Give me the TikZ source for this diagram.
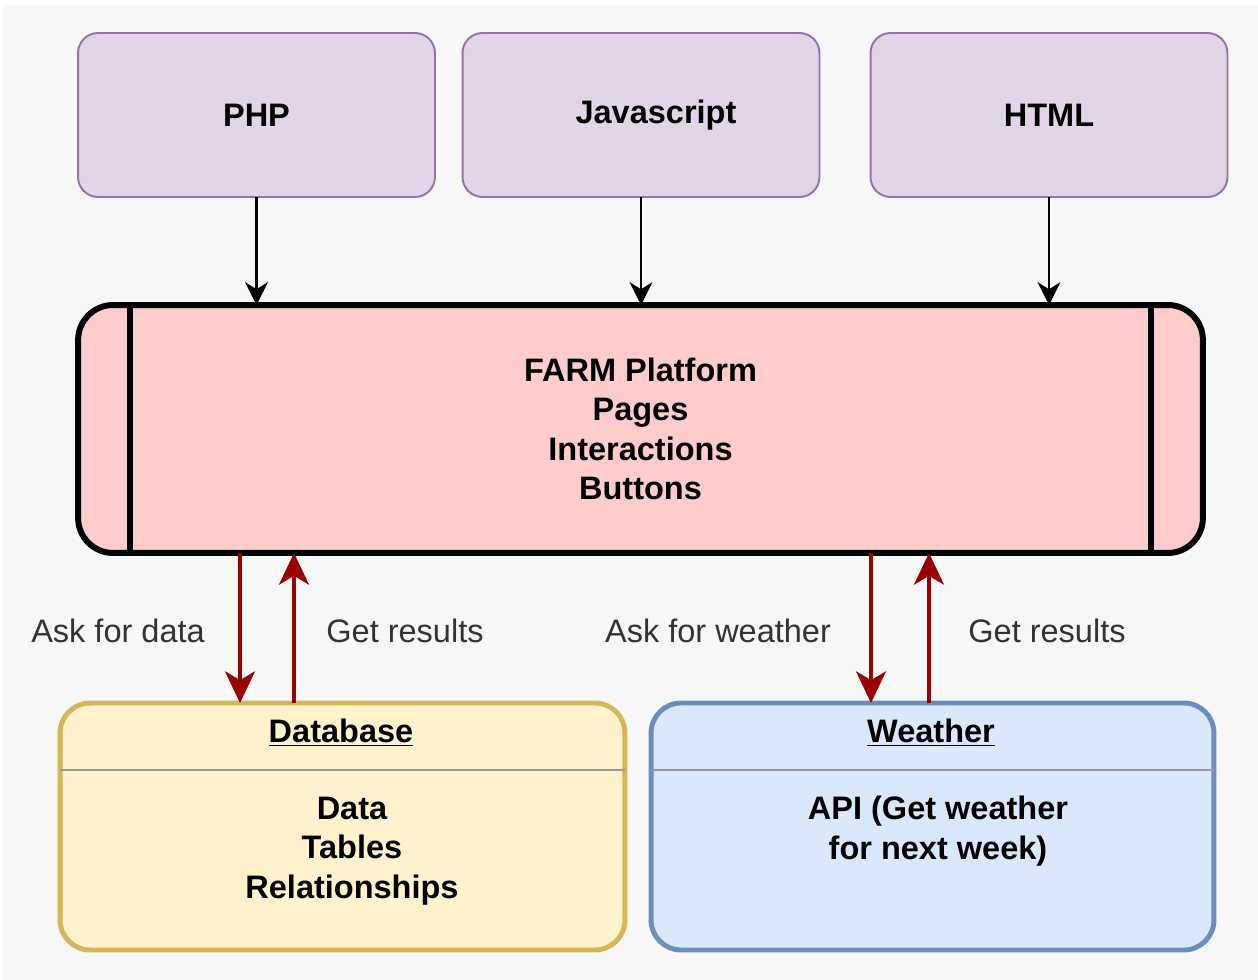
\documentclass[tikz,border=0pt]{standalone}
\usepackage{fontspec}
\setmainfont{Liberation Sans}
\usetikzlibrary{arrows.meta}

\definecolor{bgcol}{HTML}{F7F7F7}
\definecolor{techfill}{HTML}{E1D5E7}
\definecolor{techline}{HTML}{9673A6}
\definecolor{farmfill}{HTML}{FFCCCC}
\definecolor{dbfill}{HTML}{FFF2CC}
\definecolor{dbline}{HTML}{D6B656}
\definecolor{wxfill}{HTML}{DAE8FC}
\definecolor{wxline}{HTML}{6C8EBF}
\definecolor{linkred}{HTML}{990000}

\tikzset{
  bigfont/.style={font=\bfseries\fontsize{18.5}{22.5}\selectfont},
  tech/.style={draw=techline, fill=techfill, line width=1.1pt, rounded corners=0.4cm,
    minimum width=7.14cm, minimum height=3.28cm, inner sep=0, outer sep=0, bigfont},
  farm/.style={draw=black, fill=farmfill, line width=3.4pt, rounded corners=0.7cm,
    minimum width=22.5cm, minimum height=4.96cm, inner sep=0, outer sep=0, align=center, bigfont},
  bar/.style={line width=3pt},
  store/.style={line width=2.8pt, rounded corners=0.6cm, minimum height=4.94cm,
    inner sep=0, outer sep=0},
  divider/.style={draw=black!40, line width=1pt},
  boxtitle/.style={bigfont},
  boxbody/.style={align=center, bigfont},
  feed/.style={-{Stealth[length=13pt, width=13pt, inset=4pt]}, line width=1.3pt},
  link/.style={-{Stealth[length=18pt, width=17pt, inset=5pt]}, draw=linkred, line width=2.3pt},
  linklabel/.style={text=black!80, font=\fontsize{18.5}{22.5}\selectfont}
}

\begin{document}
\begin{tikzpicture}[x=0.02cm, y=-0.02cm]
\useasboundingbox (0,0) rectangle (1258,980);
\fill[white] (0,0) rectangle (1258,980);
\fill[bgcol] (3,5) rectangle (1258,980);

% languages
\node[tech] (php) at (256.5,115) {PHP};
\node[tech] (js) at (641,115) {\hspace{0.6cm}Javascript};
\node[tech] (html) at (1049,115) {HTML};

% platform
\node[farm] (farm) at (640.5,429) {FARM Platform\\Pages\\Interactions\\Buttons};
\draw[bar] ([xshift=1.04cm]farm.north west) -- ([xshift=1.04cm]farm.south west);
\draw[bar] ([xshift=-1.04cm]farm.north east) -- ([xshift=-1.04cm]farm.south east);

\foreach \n in {php,js,html}
  \draw[feed] (\n.south) -- (\n.south |- farm.north);

% back ends
\node[store, draw=dbline, fill=dbfill, minimum width=11.3cm] (db) at (342.5,826.5) {};
\node[store, draw=wxline, fill=wxfill, minimum width=11.26cm] (wx) at (932.5,826.5) {};

\coordinate (sep) at (0,770);
\draw[divider] (db.west |- sep) -- (db.east |- sep);
\draw[divider] (wx.west |- sep) -- (wx.east |- sep);

\node[boxtitle] (dbtitle) at (341,733) {\underline{Database}};
\node[boxbody] (dbbody) at (352,851) {Data\\Tables\\Relationships};
\node[boxtitle] (wxtitle) at (931,733) {\underline{Weather}};
\node[boxbody] (wxbody) at (938,831) {API (Get weather\\for next week)};

% requests and replies
\coordinate (xa) at (240,0);
\coordinate (xb) at (294,0);
\coordinate (xc) at (871,0);
\coordinate (xd) at (929,0);
\draw[link] (farm.south -| xa) -- (db.north -| xa);
\draw[link] (db.north -| xb) -- (farm.south -| xb);
\draw[link] (farm.south -| xc) -- (wx.north -| xc);
\draw[link] (wx.north -| xd) -- (farm.south -| xd);

\node[linklabel] (askdb) at (118,631) {Ask for data};
\node[linklabel] (getdb) at (405,631) {Get results};
\node[linklabel] (askwx) at (718,631) {Ask for weather};
\node[linklabel] (getwx) at (1047,631) {Get results};
\end{tikzpicture}
\end{document}
